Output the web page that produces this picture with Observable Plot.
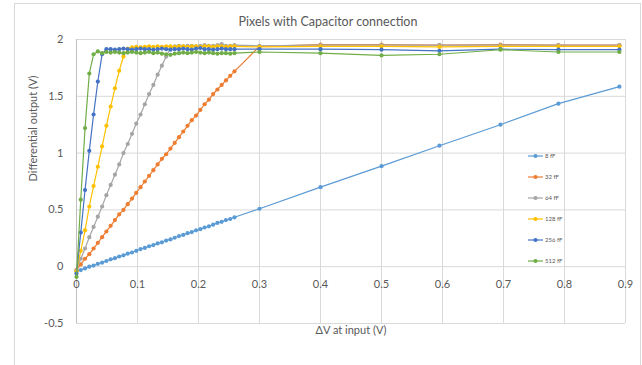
<!DOCTYPE html>
<html>
<head>
<meta charset="utf-8">
<script src="https://cdn.jsdelivr.net/npm/d3@7"></script>
<script src="https://cdn.jsdelivr.net/npm/@observablehq/plot@0.6"></script>
<style>
  html, body { margin: 0; padding: 0; background: #fff; }
  svg { display: block; }
</style>
</head>
<body>
<div id="chart"></div>
<script>
const title = "Pixels with Capacitor connection";
const xLabel = "ΔV at input (V)";
const yLabel = "Differential output (V)";
const seriesNames = ["8 fF", "32 fF", "64 fF", "128 fF", "256 fF", "512 fF"];
const seriesColors = ["#5B9BD5", "#ED7D31", "#A5A5A5", "#FFC000", "#4472C4", "#70AD47"];
const xTicks = [0, 0.1, 0.2, 0.3, 0.4, 0.5, 0.6, 0.7, 0.8, 0.9];
const xTickLabels = ["0", "0.1", "0.2", "0.3", "0.4", "0.5", "0.6", "0.7", "0.8", "0.9"];
const yTicks = [-0.5, 0, 0.5, 1, 1.5, 2];
const yTickLabels = ["-0.5", "0", "0.5", "1", "1.5", "2"];

const xs = [0,0.007,0.014,0.021,0.028,0.035,0.042,0.049,0.056,0.063,0.07,0.077,0.084,0.091,0.098,0.105,0.112,0.119,0.126,0.133,0.14,0.147,0.154,0.161,0.168,0.175,0.182,0.189,0.196,0.203,0.21,0.217,0.224,0.231,0.238,0.245,0.252,0.259,0.3,0.4,0.5,0.595,0.695,0.79,0.89];

const y8 = [-0.04,-0.03,-0.015,0,0.01,0.025,0.035,0.05,0.065,0.075,0.09,0.1,0.115,0.125,0.14,0.155,0.165,0.18,0.19,0.205,0.215,0.23,0.24,0.255,0.27,0.28,0.295,0.305,0.32,0.33,0.345,0.355,0.37,0.385,0.395,0.41,0.42,0.435,0.51,0.7,0.885,1.065,1.25,1.435,1.585];
const y32 = [-0.03,0.02,0.07,0.11,0.16,0.21,0.26,0.31,0.36,0.41,0.46,0.5,0.55,0.6,0.65,0.7,0.75,0.8,0.85,0.9,0.95,0.99,1.04,1.09,1.14,1.19,1.24,1.29,1.33,1.38,1.43,1.47,1.52,1.56,1.6,1.64,1.68,1.72,1.94,1.955,1.955,1.95,1.955,1.95,1.95];
const y64 = [-0.03,0.07,0.16,0.26,0.35,0.44,0.53,0.63,0.72,0.81,0.9,1.0,1.08,1.17,1.26,1.34,1.43,1.52,1.6,1.69,1.77,1.85,1.92,1.94,1.945,1.94,1.945,1.945,1.94,1.945,1.95,1.945,1.945,1.95,1.96,1.945,1.945,1.95,1.945,1.95,1.95,1.95,1.95,1.95,1.95];
const y128 = [-0.04,0.14,0.32,0.53,0.71,0.88,1.06,1.24,1.41,1.57,1.725,1.85,1.92,1.93,1.935,1.93,1.935,1.94,1.935,1.94,1.935,1.94,1.94,1.935,1.94,1.94,1.935,1.94,1.94,1.935,1.94,1.94,1.935,1.94,1.94,1.935,1.94,1.94,1.935,1.94,1.94,1.935,1.94,1.94,1.94];
const y256 = [-0.06,0.3,0.675,1.02,1.34,1.63,1.87,1.915,1.915,1.91,1.915,1.92,1.915,1.91,1.915,1.92,1.915,1.915,1.91,1.915,1.92,1.915,1.91,1.915,1.915,1.92,1.915,1.91,1.92,1.925,1.915,1.915,1.91,1.915,1.92,1.915,1.915,1.915,1.915,1.915,1.91,1.9,1.915,1.91,1.91];
const y512 = [-0.09,0.59,1.22,1.7,1.87,1.895,1.88,1.89,1.885,1.89,1.885,1.88,1.885,1.89,1.885,1.88,1.885,1.89,1.88,1.885,1.875,1.87,1.865,1.875,1.88,1.885,1.88,1.885,1.89,1.885,1.88,1.885,1.88,1.875,1.88,1.88,1.875,1.88,1.89,1.88,1.86,1.87,1.91,1.89,1.89];

const seriesValues = [y8, y32, y64, y128, y256, y512];
const table = seriesNames.map((name, i) => xs.map((x, j) => ({series: name, x, y: seriesValues[i][j]})));

const font = "Lato, 'Open Sans', sans-serif";
const textColor = "#595959";
const gridColor = "#d9d9d9";

const seriesMarks = table.flatMap((rows, i) => [
  Plot.line(rows, {x: "x", y: "y", stroke: seriesColors[i], strokeWidth: 1.2}),
  Plot.dot(rows, {x: "x", y: "y", fill: seriesColors[i], r: 2.1, stroke: "none"})
]);

const chart = Plot.plot({
  width: 642,
  height: 365,
  marginLeft: 76,
  marginRight: 17,
  marginTop: 39,
  marginBottom: 42,
  style: {fontFamily: font, background: "#fff", overflow: "visible"},
  x: {domain: [0, 0.9], axis: null},
  y: {domain: [-0.5, 2], axis: null},
  marks: [
    Plot.ruleX(xTicks, {x: d => d, stroke: gridColor, strokeWidth: 1}),
    Plot.ruleY(yTicks, {y: d => d, stroke: gridColor, strokeWidth: 1}),
    Plot.ruleX([0], {stroke: "#bfbfbf", strokeWidth: 1}),
    Plot.text(xTicks, {x: d => d, y: 0, dy: 18, text: (d, i) => xTickLabels[i], fill: textColor, fontSize: 11}),
    Plot.text(yTicks, {x: 0, y: d => d, dx: -13, text: (d, i) => yTickLabels[i], textAnchor: "end", fill: textColor, fontSize: 11}),
    Plot.text([xLabel], {frameAnchor: "bottom", dy: 10, text: d => d, fill: textColor, fontSize: 11}),
    Plot.text([yLabel], {frameAnchor: "left", dx: -43, rotate: -90, text: d => d, fill: textColor, fontSize: 11}),
    Plot.text([title], {frameAnchor: "top", dy: -22, dx: -23, text: d => d, fill: textColor, fontSize: 12.5}),
    ...seriesMarks
  ]
});

// outer chart border and legend
const svg = d3.select(chart);
svg.insert("rect", ":first-child")
  .attr("x", 14.5).attr("y", 3.5).attr("width", 626).attr("height", 364)
  .attr("fill", "#fff").attr("stroke", gridColor);

const legend = svg.append("g").attr("font-family", font).attr("font-size", 6).attr("fill", textColor).attr("text-anchor", "start");
seriesNames.forEach((name, i) => {
  const yy = 156 + i * 21;
  const g = legend.append("g").attr("transform", `translate(528,${yy})`);
  g.append("line").attr("x1", 0).attr("x2", 15).attr("y1", 0).attr("y2", 0)
    .attr("stroke", seriesColors[i]).attr("stroke-width", 1.2);
  g.append("circle").attr("cx", 7.5).attr("cy", 0).attr("r", 2.1).attr("fill", seriesColors[i]);
  g.append("text").attr("x", 17).attr("y", 0).attr("dy", "0.32em").attr("text-anchor", "start").text(name);
});

document.getElementById("chart").appendChild(chart);
</script>
</body>
</html>
